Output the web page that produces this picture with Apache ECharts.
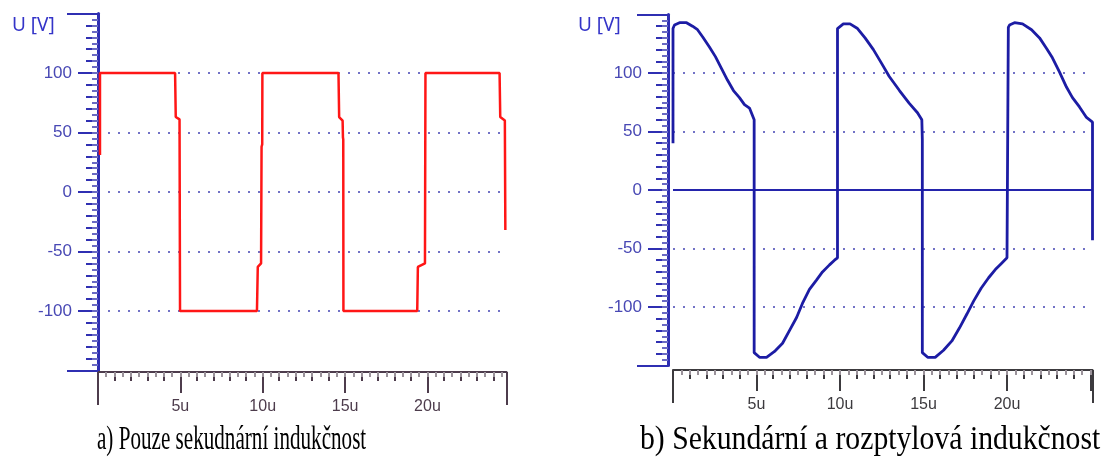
<!DOCTYPE html>
<html>
<head>
<meta charset="utf-8">
<style>
  html, body { margin: 0; padding: 0; background: #fff; }
  #chart { width: 1107px; height: 462px; }
</style>
<script src="https://cdn.jsdelivr.net/npm/echarts@6.0.0/dist/echarts.min.js"></script>
</head>
<body>
<div id="chart"></div>
<script>
  // a) secondary inductance only - time [us], voltage [V]
  const secTime = [0.12, 0.12, 4.68, 4.72, 4.95, 4.98, 9.65, 9.7, 9.9, 9.93, 9.97, 9.98, 14.6, 14.64, 14.85, 14.87, 14.89, 14.9, 19.38, 19.42, 19.85, 19.88, 24.38, 24.42, 24.7, 24.73]
  const secVolt = [31, 100, 100, 63, 61, -100, -100, -63, -60, 38, 40, 100, 100, 63, 60, 46, 44, -100, -100, -63, -60, 100, 100, 63, 60, -32]

  // b) secondary + leakage inductance
  const leakTime = [0, 0, 0.09, 0.39, 0.81, 1.17, 1.47, 1.77, 2.19, 2.54, 2.9, 3.26, 3.62, 3.98, 4.28, 4.58, 4.86, 4.86, 5.18, 5.6, 6.08, 6.56, 6.98, 7.4, 7.75, 8.17, 8.59, 8.95, 9.37, 9.67, 9.85, 9.85, 10.2, 10.6, 11.05, 11.5, 12.0, 12.5, 12.95, 13.56, 14.15, 14.64, 14.9, 14.93, 14.93, 15.25, 15.7, 16.2, 16.7, 17.15, 17.6, 18.0, 18.45, 18.9, 19.3, 19.65, 20.0, 20.08, 20.08, 20.15, 20.45, 20.93, 21.47, 21.95, 22.37, 22.72, 23.14, 23.56, 23.92, 24.34, 24.76, 25.12, 25.12]
  const leakVolt = [40, 138, 141, 143, 143, 140, 137, 131, 122, 114, 104, 94, 85, 79, 73, 70, 60, -139, -143, -143, -138, -131, -120, -109, -97, -85, -77, -70, -64, -60, -58, 138, 142, 142, 138, 130, 120, 108, 97, 85, 74, 66, 60, 43, -139, -143, -143, -137, -129, -118, -106, -95, -84, -75, -68, -63, -58, -58, 139, 141, 143, 142, 137, 130, 121, 113, 101, 88, 79, 71, 62, 58, -43]
  const zeroTime = [0, 25.12]
  const zeroVolt = [0, 0]

  const xTickLabels = [5, 10, 15, 20]
  const yTickLabels = [-100, -50, 0, 50, 100]

  const zip = (a, b) => a.map((v, i) => [v, b[i]])

  const blue = '#2f2fb2'
  const dots = { color: '#7272c6', width: 2, type: [2, 8] }

  function xAxes (grid, max, offset, color) {
    const base = {
      type: 'value', gridIndex: grid, min: 0, max: max, position: 'bottom', offset: offset,
      axisLine: { show: false, onZero: false }, axisLabel: { show: false }, splitLine: { show: false }
    }
    return [
      Object.assign({}, base, {
        interval: 5,
        axisLine: { show: true, onZero: false, lineStyle: { color: color, width: 2 } },
        axisTick: { length: 21, lineStyle: { color: color, width: 2 } },
        axisLabel: {
          show: true, margin: 27, color: color, fontSize: 16, fontFamily: 'Liberation Sans',
          formatter: v => xTickLabels.includes(v) ? v + 'u' : ''
        }
      }),
      Object.assign({}, base, { interval: 1, axisTick: { length: 9, lineStyle: { color: color, width: 2 } } }),
      Object.assign({}, base, { interval: 0.5, axisTick: { length: 5, lineStyle: { color: '#9a929a', width: 2 } } }),
      Object.assign({}, base, { interval: max, axisTick: { length: 33, lineStyle: { color: color, width: 2 } } })
    ]
  }

  function yAxes (grid, offset) {
    const base = {
      type: 'value', gridIndex: grid, min: -150, max: 150, position: 'left', offset: offset,
      axisLine: { show: false, onZero: false }, axisLabel: { show: false }, splitLine: { show: false }
    }
    return [
      Object.assign({}, base, {
        interval: 50,
        axisLine: { show: true, onZero: false, lineStyle: { color: blue, width: 3 } },
        axisTick: { length: 20, lineStyle: { color: blue, width: 2 } },
        axisLabel: {
          show: true, margin: 26, color: '#4848b4', fontSize: 17, fontFamily: 'Liberation Sans',
          formatter: v => yTickLabels.includes(v) ? String(v) : ''
        },
        splitLine: { show: true, showMinLine: false, showMaxLine: false, lineStyle: dots }
      }),
      Object.assign({}, base, { interval: 10, axisTick: { length: 12, lineStyle: { color: blue, width: 2 } } }),
      Object.assign({}, base, { interval: 5, axisTick: { length: 6, lineStyle: { color: '#6a6ac4', width: 2 } } }),
      Object.assign({}, base, { interval: 300, axisTick: { length: 31, lineStyle: { color: blue, width: 2 } } })
    ]
  }

  const chart = echarts.init(document.getElementById('chart'))
  chart.setOption({
    animation: false,
    backgroundColor: '#fff',
    grid: [
      { left: 98, top: 13.5, width: 408.5, height: 357 },
      { left: 673, top: 14.5, width: 419.5, height: 351 }
    ],
    xAxis: xAxes(0, 24.8, 1.5, '#4d3c4c').concat(xAxes(1, 25.12, 4.5, '#3c3a3e')),
    yAxis: yAxes(0, 0).concat(yAxes(1, 5)),
    graphic: [
      { type: 'text', x: 12, y: 16, style: { text: 'U [V]', font: '19px "Noto Sans"', fill: '#3434c8' } },
      { type: 'text', x: 578, y: 16, style: { text: 'U [V]', font: '19px "Noto Sans"', fill: '#3434c8' } },
      { type: 'text', x: 97, y: 440, scaleX: 0.64, style: { text: 'a) Pouze sekudnární indukčnost', font: '33px "Liberation Serif"', fill: '#000', verticalAlign: 'middle' } },
      { type: 'text', x: 640, y: 440, scaleX: 0.9, style: { text: 'b) Sekundární a rozptylová indukčnost', font: '33px "Liberation Serif"', fill: '#000', verticalAlign: 'middle' } }
    ],
    series: [
      {
        name: 'sekundární', type: 'line', xAxisIndex: 0, yAxisIndex: 0,
        data: zip(secTime, secVolt), showSymbol: false,
        lineStyle: { color: '#ff1616', width: 2.5 }
      },
      {
        name: 'nula', type: 'line', xAxisIndex: 4, yAxisIndex: 4,
        data: zip(zeroTime, zeroVolt), showSymbol: false,
        lineStyle: { color: '#2424ac', width: 2 }
      },
      {
        name: 'rozptylová', type: 'line', xAxisIndex: 4, yAxisIndex: 4,
        data: zip(leakTime, leakVolt), showSymbol: false,
        lineStyle: { color: '#1c1ca4', width: 2.8 }
      }
    ]
  })
</script>
</body>
</html>
